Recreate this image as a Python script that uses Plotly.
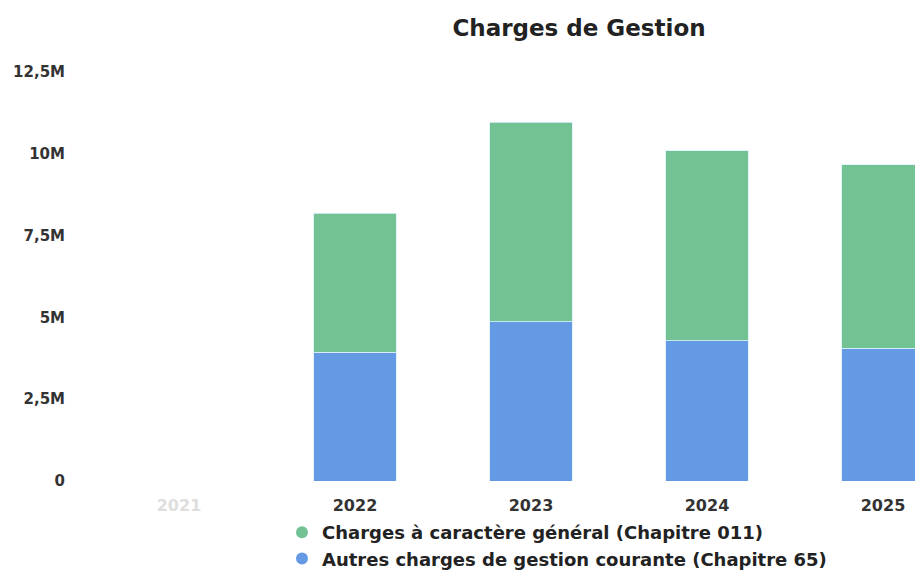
import plotly.graph_objects as go

years = ["2021", "2022", "2023", "2024", "2025"]
year_labels = ['<span style="color:#dedede">2021</span>', "2022", "2023", "2024", "2025"]
chap65 = [None, 3.94e6, 4.86e6, 4.28e6, 4.06e6]   # Autres charges de gestion courante
chap011 = [None, 4.25e6, 6.11e6, 5.81e6, 5.60e6]  # Charges à caractère général
y_ticks = [0, 2.5e6, 5e6, 7.5e6, 10e6, 12.5e6]
y_tick_labels = ["0", "2,5M", "5M", "7,5M", "10M", "12,5M"]

name011 = "Charges à caractère général (Chapitre 011)"
name65 = "Autres charges de gestion courante (Chapitre 65)"
green = "#72c294"
blue = "#6499e4"

# page has an 8px body margin: figure pixel = page pixel - 8
W, H = 915, 580
L, R, T, B = 83, 0, 64, 580 - 473
plot_w, plot_h = W - L - R, H - T - B

fig = go.Figure()
fig.add_trace(go.Bar(x=years, y=chap65, name=name65, marker=dict(color=blue, line=dict(color="rgba(220,240,255,0.8)", width=1)), showlegend=False))
fig.add_trace(go.Bar(x=years, y=chap011, name=name011, marker=dict(color=green, line=dict(color="rgba(220,240,255,0.8)", width=1)), showlegend=False))
# legend entries with circular symbols
fig.add_trace(go.Scatter(x=[None], y=[None], mode="markers", name=name011, marker=dict(color=green, size=15, symbol="circle")))
fig.add_trace(go.Scatter(x=[None], y=[None], mode="markers", name=name65, marker=dict(color=blue, size=15, symbol="circle")))

fig.update_layout(
    width=W, height=H,
    barmode="stack", bargap=0.53,
    plot_bgcolor="white", paper_bgcolor="white",
    margin=dict(l=L, r=R, t=T, b=B, autoexpand=False),
    title=dict(text="<b>Charges de Gestion</b>", x=571/W, xanchor="center", xref="container",
               y=1-20/H, yanchor="middle", yref="container",
               font=dict(family="DejaVu Sans", size=23, color="#222")),
    xaxis=dict(type="category", range=[-0.5, plot_w / 176 - 0.5], tickvals=years, ticktext=year_labels,
               showgrid=False, showline=False, zeroline=False, ticks="", ticklabelstandoff=13, automargin=False,
               tickfont=dict(family="DejaVu Sans", size=16, color="#333", weight="bold")),
    yaxis=dict(range=[0, 12.5e6], tickvals=y_ticks, ticktext=y_tick_labels,
               showgrid=False, showline=False, zeroline=False, ticks="", ticklabelstandoff=25, automargin=False,
               tickfont=dict(family="DejaVu Sans", size=15, color="#333", weight="bold")),
    legend=dict(orientation="v", traceorder="normal",
                x=(274 - L) / plot_w, xanchor="left", y=(473 - 506) / plot_h, yanchor="top",
                font=dict(family="DejaVu Sans", size=18, color="#222", weight="bold"),
                bgcolor="rgba(0,0,0,0)", tracegroupgap=0, itemsizing="constant"),
    hovermode=False,
)
fig.write_html("out.html")
